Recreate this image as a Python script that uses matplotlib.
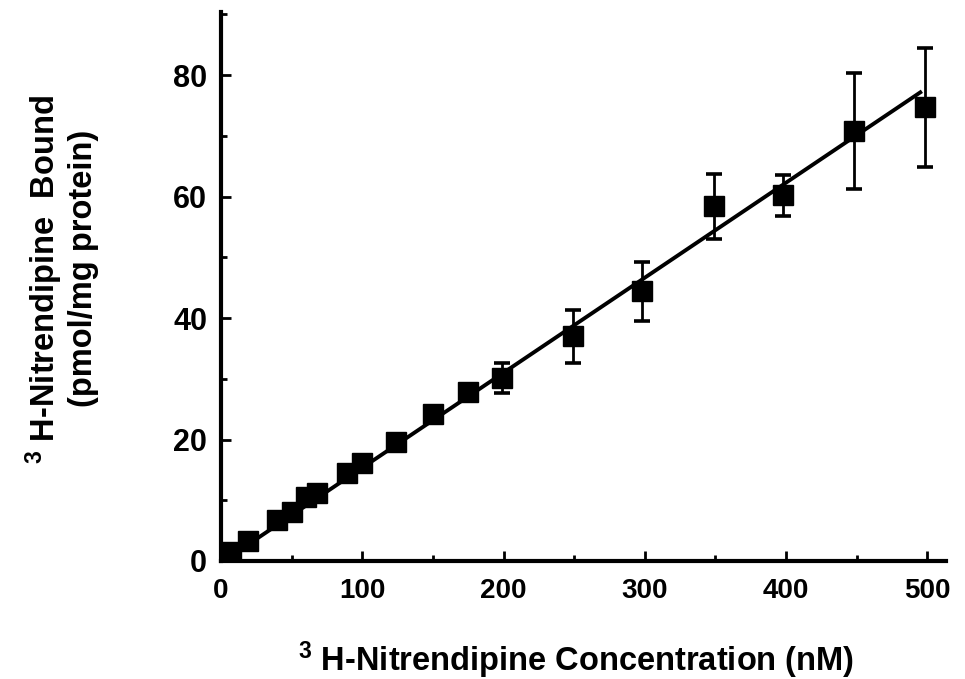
import matplotlib
matplotlib.use('Agg')
import matplotlib.pyplot as plt
from matplotlib.ticker import MultipleLocator

# Nitrendipine concentration (nM) and amount bound (pmol/mg protein)
conc = [7, 19, 40, 50, 60, 68, 89, 100, 124, 150, 175, 199,
        249, 298, 349, 398, 448, 498]
bound = [1.5, 3.3, 6.8, 8.1, 10.6, 11.2, 14.5, 16.1, 19.6, 24.2, 27.8, 30.1,
         37.0, 44.4, 58.4, 60.2, 70.8, 74.7]
err = [0, 0, 0, 0, 0, 1.3, 0, 0, 0, 0, 0, 2.5,
       4.4, 4.8, 5.3, 3.4, 9.5, 9.8]

# linear fit drawn through the points
fit_x = [3, 495]
fit_slope = 0.1565
fit_icpt = -0.3

x_ticks = [0, 100, 200, 300, 400, 500]
y_ticks = [0, 20, 40, 60, 80]

plt.rcParams['font.family'] = ['Liberation Sans', 'DejaVu Sans']
plt.rcParams['font.weight'] = 'bold'
plt.rcParams['mathtext.fontset'] = 'custom'
plt.rcParams['mathtext.default'] = 'bf'
plt.rcParams['mathtext.bf'] = 'Liberation Sans:bold'
plt.rcParams['mathtext.rm'] = 'Liberation Sans:bold'

fig = plt.figure(figsize=(9.65, 6.79), dpi=100)
ax = fig.add_axes([0.229, 0.1738, 0.751, 0.8085])

fit_y = [fit_slope * x + fit_icpt for x in fit_x]
ax.plot(fit_x, fit_y, color='black', lw=2.8, zorder=2)

ax.errorbar(conc, bound, yerr=err, fmt='none', ecolor='black',
            elinewidth=2.0, capsize=5.5, capthick=2.6, zorder=3)
ax.plot(conc, bound, 's', color='black', ms=14.5, mec='black', zorder=4)

ax.set_xlim(0, 513)
ax.set_ylim(0, 90.4)

ax.set_xticks(x_ticks)
ax.set_yticks(y_ticks)
ax.xaxis.set_minor_locator(MultipleLocator(50))
ax.yaxis.set_minor_locator(MultipleLocator(10))

ax.spines['top'].set_visible(False)
ax.spines['right'].set_visible(False)
for s in ['left', 'bottom']:
    ax.spines[s].set_linewidth(3.0)

ax.tick_params(which='major', direction='in', length=7.5, width=2.0)
ax.tick_params(which='minor', direction='in', length=4.5, width=2.0)
ax.tick_params(axis='x', which='major', pad=12, labelsize=20)
ax.tick_params(axis='y', which='major', pad=10, labelsize=22)
for lab in ax.get_xticklabels() + ax.get_yticklabels():
    lab.set_fontweight('bold')

fig.text(0.597, 0.028, r'$^{3}$ H-Nitrendipine Concentration (nM)',
         fontsize=23.5, fontweight='bold', ha='center', va='center')
fig.text(0.046, 0.588, r'$^{3}$ H-Nitrendipine  Bound', rotation=90,
         fontsize=23.5, fontweight='bold', ha='center', va='center')
fig.text(0.087, 0.605, '(pmol/mg protein)', rotation=90,
         fontsize=23.5, fontweight='bold', ha='center', va='center')

fig.savefig('out.png', dpi=100)
